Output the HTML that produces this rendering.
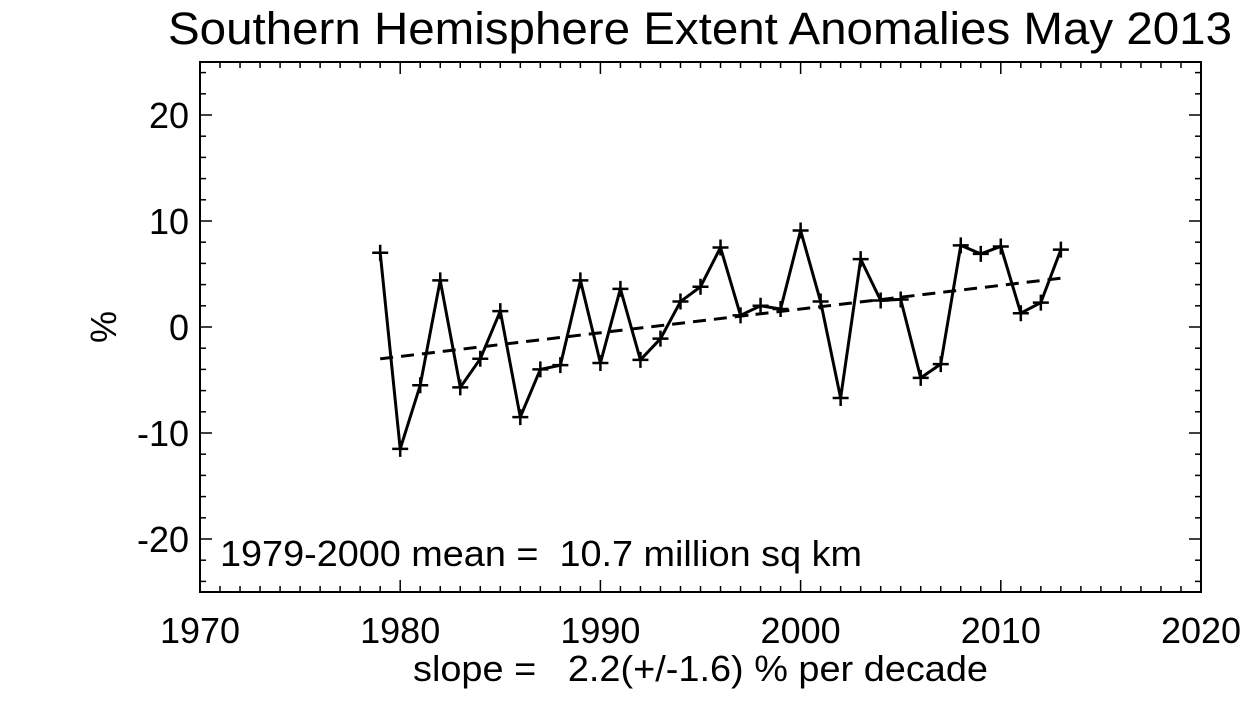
<!DOCTYPE html>
<html><head><style>body{margin:0;background:#fff}svg{display:block}text{font-family:"Liberation Sans",sans-serif;fill:#000;white-space:pre}</style></head>
<body>
<svg id="s" width="1260" height="720" xmlns="http://www.w3.org/2000/svg">
<rect width="1260" height="720" fill="#fff"/>
<text x="168" y="44" font-size="45" textLength="1064" lengthAdjust="spacingAndGlyphs">Southern Hemisphere Extent Anomalies May 2013</text>
<text x="413" y="681" font-size="36" textLength="575" lengthAdjust="spacingAndGlyphs" xml:space="preserve">slope =   2.2(+/-1.6) % per decade</text>
<text x="220" y="566" font-size="36" textLength="642" lengthAdjust="spacingAndGlyphs" xml:space="preserve">1979-2000 mean =  10.7 million sq km</text>
<text x="104" y="327" font-size="36" text-anchor="middle" transform="rotate(-90 104 327)" dy="12">%</text>
<rect x="200" y="62" width="1001" height="530" fill="none" stroke="#000" stroke-width="2"/>
<g id="g"></g>
</svg>
<script>
var X=y=>200+(y-1970)*20.02, Y=v=>327-v*10.6, h='';
for(var yr=1970;yr<=2020;yr++){var L=yr%10==0?12:6,x=X(yr);h+=`<line x1="${x}" y1="592" x2="${x}" y2="${592-L}" stroke="#000" stroke-width="1.5"/><line x1="${x}" y1="62" x2="${x}" y2="${62+L}" stroke="#000" stroke-width="1.5"/>`;if(yr%10==0)h+=`<text x="${x}" y="643" font-size="36" text-anchor="middle">${yr}</text>`;}
for(var v=-24;v<=24;v+=2){var L=v%10==0?12:6,yy=Y(v);h+=`<line x1="200" y1="${yy}" x2="${200+L}" y2="${yy}" stroke="#000" stroke-width="1.5"/><line x1="1201" y1="${yy}" x2="${1201-L}" y2="${yy}" stroke="#000" stroke-width="1.5"/>`;if(v%10==0)h+=`<text x="189" y="${yy+13}" font-size="36" text-anchor="end">${v}</text>`;}
var d=[7,-11.5,-5.5,4.4,-5.7,-3,1.5,-8.5,-4,-3.6,4.4,-3.4,3.6,-3.1,-1.1,2.4,3.8,7.5,1.1,2,1.7,9.1,2.4,-6.7,6.4,2.5,2.6,-4.8,-3.5,7.7,6.9,7.6,1.3,2.3,7.3];
var p=d.map((v,i)=>X(1979+i).toFixed(1)+','+Y(v).toFixed(1));
h+=`<polyline points="${p.join(' ')}" fill="none" stroke="#000" stroke-width="3"/>`;
d.forEach((v,i)=>{var x=X(1979+i),yy=Y(v);h+=`<path d="M${x-8} ${yy}h16M${x} ${yy-8}v16" stroke="#000" stroke-width="2.5"/>`;});
h+=`<line x1="${X(1979)}" y1="${Y(-3)}" x2="${X(2013)}" y2="${Y(4.6)}" stroke="#000" stroke-width="3" stroke-dasharray="13,8"/>`;
document.getElementById('g').innerHTML=h;
</script>
</body></html>
